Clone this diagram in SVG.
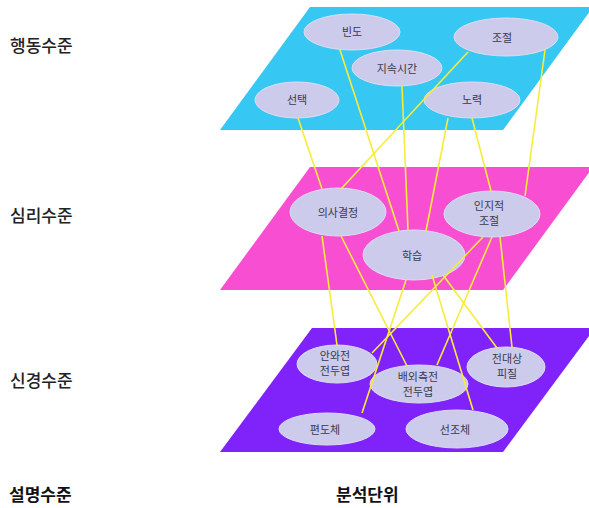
<svg xmlns="http://www.w3.org/2000/svg" width="589" height="508" viewBox="0 0 589 508">
<style>
.lbl{font-family:"Noto Sans CJK KR","Noto Sans",sans-serif;font-size:17px;font-weight:500;fill:#222}
.bold{font-weight:bold;fill:#111}
.n{fill:#cccbec;stroke:#dcdcf4;stroke-width:1}
.t{font-family:"Noto Sans CJK KR","Noto Sans",sans-serif;font-size:11px;fill:#3a3a4a;text-anchor:middle}
.c{stroke:#f6ec3a;stroke-width:1.6;fill:none}
</style>
<rect width="589" height="508" fill="#ffffff"/>
<g id="planes">
<polygon points="310,7 593,7 503,130 220,130" fill="#36c8f2"/>
<polygon points="310,167 593,167 503,290 220,290" fill="#f84fd2"/>
<polygon points="312,328 595,328 503,452 220,452" fill="#8022fa"/>
</g>
<g id="level-labels">
<text class="lbl" x="10" y="52">행동수준</text>
<text class="lbl" x="10" y="222">심리수준</text>
<text class="lbl" x="10" y="387">신경수준</text>
<text class="lbl bold" x="9" y="501">설명수준</text>
<text class="lbl bold" x="336" y="501">분석단위</text>
</g>
<g id="n-bindo"><ellipse class="n" cx="352" cy="32" rx="48" ry="18"/><text class="t" x="352" y="36">빈도</text></g>
<g id="n-jojeol"><ellipse class="n" cx="506" cy="37" rx="52" ry="19"/><text class="t" x="502" y="42">조절</text></g>
<g id="n-jisok"><ellipse class="n" cx="397" cy="68" rx="45" ry="18"/><text class="t" x="397" y="73">지속시간</text></g>
<g id="n-seontaek"><ellipse class="n" cx="297" cy="100" rx="42" ry="18"/><text class="t" x="297" y="104">선택</text></g>
<g id="n-noryeok"><ellipse class="n" cx="472" cy="100" rx="48" ry="18"/><text class="t" x="472" y="104">노력</text></g>
<g id="n-uisa"><ellipse class="n" cx="338" cy="212" rx="48" ry="24"/><text class="t" x="338" y="217">의사결정</text></g>
<g id="n-inji"><ellipse class="n" cx="492" cy="214" rx="48" ry="23"/><text class="t" x="489" y="210">인지적</text><text class="t" x="489" y="225">조절</text></g>
<g id="n-haksup"><ellipse class="n" cx="414" cy="255" rx="51" ry="25"/><text class="t" x="412" y="260">학습</text></g>
<g id="n-anwa"><ellipse class="n" cx="337" cy="364" rx="40" ry="19"/><text class="t" x="335" y="360">안와전</text><text class="t" x="335" y="375">전두엽</text></g>
<g id="n-baeoe"><ellipse class="n" cx="419" cy="384" rx="49" ry="19"/><text class="t" x="418" y="381">배외측전</text><text class="t" x="418" y="396">전두엽</text></g>
<g id="n-jeondae"><ellipse class="n" cx="506" cy="367" rx="39" ry="20"/><text class="t" x="507" y="363">전대상</text><text class="t" x="507" y="378">피질</text></g>
<g id="n-pyeondo"><ellipse class="n" cx="327" cy="429" rx="48" ry="16"/><text class="t" x="325" y="434">편도체</text></g>
<g id="n-seonjo"><ellipse class="n" cx="457" cy="429" rx="51" ry="19"/><text class="t" x="455" y="434">선조체</text></g>
<g id="connectors">
<line class="c" x1="298" y1="118" x2="322" y2="189"/>
<line class="c" x1="340" y1="50" x2="399" y2="231"/>
<line class="c" x1="402" y1="86" x2="408" y2="230"/>
<line class="c" x1="468" y1="52" x2="341" y2="189"/>
<line class="c" x1="448" y1="118" x2="426" y2="231"/>
<line class="c" x1="472" y1="118" x2="491" y2="191"/>
<line class="c" x1="545" y1="50" x2="525" y2="196"/>
<line class="c" x1="322" y1="236" x2="337" y2="345"/>
<line class="c" x1="341" y1="236" x2="407" y2="366"/>
<line class="c" x1="406" y1="280" x2="362" y2="413"/>
<line class="c" x1="483" y1="237" x2="372" y2="353"/>
<line class="c" x1="432" y1="275" x2="473" y2="410"/>
<line class="c" x1="443" y1="275" x2="497" y2="348"/>
<line class="c" x1="492" y1="237" x2="437" y2="365"/>
<line class="c" x1="500" y1="237" x2="512" y2="347"/>
</g>
</svg>
